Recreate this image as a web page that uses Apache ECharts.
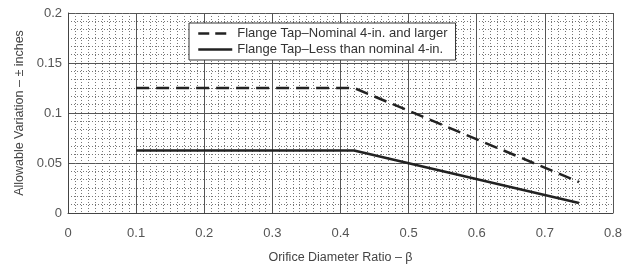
<!DOCTYPE html>
<html><head><meta charset="utf-8">
<script src="https://cdn.jsdelivr.net/npm/echarts@6/dist/echarts.min.js"></script>
<style>html,body{margin:0;padding:0;background:#fff}#c{width:633px;height:266px}</style>
</head><body><div id="c"></div>
<script>
const seriesNames = ['Flange Tap\u2013Nominal 4-in. and larger', 'Flange Tap\u2013Less than nominal 4-in.'];
const largerX = [0.1, 0.42, 0.75];
const largerY = [0.125, 0.125, 0.031];
const smallerX = [0.1, 0.42, 0.75];
const smallerY = [0.0625, 0.0625, 0.01];
const xTicks = [0, 0.1, 0.2, 0.3, 0.4, 0.5, 0.6, 0.7, 0.8];
const yTicks = [0, 0.05, 0.1, 0.15, 0.2];
const xName = 'Orifice Diameter Ratio \u2013 \u03b2';
const yName = 'Allowable Variation \u2013 \u00b1 inches';

const font = 'Liberation Sans, Arial, sans-serif';
const chart = echarts.init(document.getElementById('c'));
chart.setOption({
  animation: false,
  textStyle: {fontFamily: font},
  grid: {left: 68, right: 20, top: 13, bottom: 53, outerBoundsMode: 'none', containLabel: false},
  legend: {
    left: 189, top: 23, orient: 'vertical', itemGap: 3,
    itemWidth: 34, itemHeight: 12,
    backgroundColor: '#fff', borderColor: '#333', borderWidth: 1,
    padding: [4, 8, 4, 8],
    itemStyle: {opacity: 0},
    textStyle: {fontSize: 13, color: '#333', fontFamily: font},
    data: [
      {name: seriesNames[0], lineStyle: {color: '#222', width: 2.5, type: [11, 6]}},
      {name: seriesNames[1], lineStyle: {color: '#222', width: 2.5, type: 'solid'}}
    ]
  },
  xAxis: {
    type: 'value', min: 0, max: 0.8, interval: 0.1,
    name: xName, nameLocation: 'middle', nameGap: 38,
    nameTextStyle: {fontSize: 12.5, color: '#444', fontFamily: font},
    axisLine: {show: true, onZero: false, lineStyle: {color: '#444'}},
    axisTick: {show: false},
    axisLabel: {fontSize: 13, color: '#555', margin: 14,
      formatter: v => { const t = xTicks.find(x => Math.abs(x - v) < 1e-9); return t === undefined ? '' : String(t); }},
    splitLine: {show: true, lineStyle: {color: '#555', width: 1}},
    minorTick: {show: false, splitNumber: 10},
    minorSplitLine: {show: true, lineStyle: {color: '#777', type: [1, 2], width: 1}}
  },
  yAxis: {
    type: 'value', min: 0, max: 0.2, interval: 0.05,
    name: yName, nameLocation: 'middle', nameGap: 40,
    nameTextStyle: {fontSize: 12.5, color: '#444', fontFamily: font},
    axisLine: {show: true, lineStyle: {color: '#444'}},
    axisTick: {show: false},
    axisLabel: {fontSize: 13, color: '#555', margin: 6,
      formatter: v => { const t = yTicks.find(y => Math.abs(y - v) < 1e-9); return t === undefined ? '' : String(t); }},
    splitLine: {show: true, lineStyle: {color: '#555', width: 1}},
    minorTick: {show: false, splitNumber: 6},
    minorSplitLine: {show: true, lineStyle: {color: '#777', type: [1, 2], width: 1}}
  },
  series: [
    {name: seriesNames[0], type: 'line', symbol: 'none',
      data: largerX.map((x, i) => [x, largerY[i]]),
      lineStyle: {color: '#222', width: 2.5, type: [13, 7]}, itemStyle: {color: '#222'}},
    {name: seriesNames[1], type: 'line', symbol: 'none',
      data: smallerX.map((x, i) => [x, smallerY[i]]),
      lineStyle: {color: '#222', width: 2.5}, itemStyle: {color: '#222'}}
  ]
});
</script></body></html>
